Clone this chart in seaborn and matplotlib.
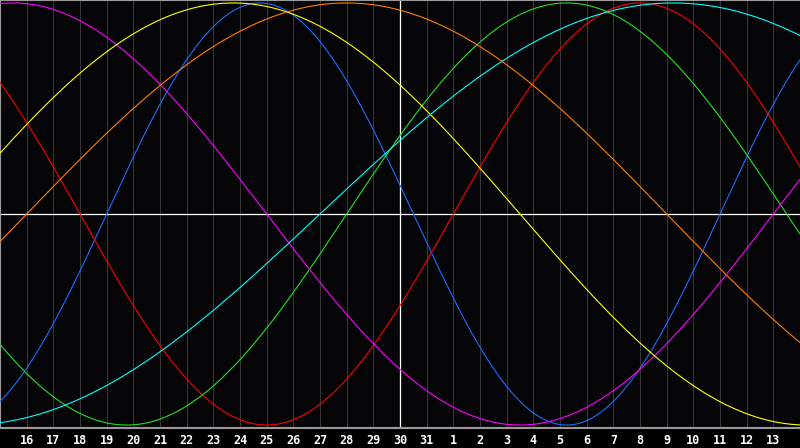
import numpy as np
import pandas as pd
import matplotlib
matplotlib.use("Agg")
import matplotlib.pyplot as plt
import seaborn as sns

# Day labels along the x-axis (Jul 16 .. Aug 13), day 0 = Jul 15 at left edge
day_labels = [str(d) for d in range(16, 32)] + [str(d) for d in range(1, 14)]
n_days = 30

# Biorhythm cycles: period (days) and day index of the upward zero crossing
cycles = ["Physical", "Emotional", "Intellectual", "Intuitive", "Aesthetic", "Awareness", "Spiritual"]
periods = [23, 28, 33, 38, 43, 48, 53]
up_cross = [4, 17, 13, -9, -2, 1, 12]
colors = ["#1a6cff", "#ff0000", "#22e022", "#ff00ff", "#ffff00", "#ff7f00", "#00ffff"]

t = np.linspace(0, n_days, 601)
frames = []
for name, p, c0 in zip(cycles, periods, up_cross):
    frames.append(pd.DataFrame({"t": t, "value": np.sin(2 * np.pi * (t - c0) / p), "cycle": name}))
df = pd.concat(frames, ignore_index=True)

sns.set_style("dark")
fig = plt.figure(figsize=(8, 4.48), dpi=100, facecolor="#000000")
ax = fig.add_axes([0, 20 / 448, 1, 428 / 448])
ax.set_facecolor("#050508")

# grid lines
for k in range(1, n_days):
    ax.axvline(k, color="#363636", lw=0.8, zorder=1)
ax.axvline(15, color="#ffffff", lw=0.9, zorder=2)
ax.axhline(0, color="#ffffff", lw=0.9, zorder=2)

sns.lineplot(data=df, x="t", y="value", hue="cycle", palette=dict(zip(cycles, colors)),
             ax=ax, lw=0.8, legend=False, zorder=3, sort=False, estimator=None)

ax.set_xlim(0, n_days)
ax.set_ylim(-1.014, 1.014)
ax.set_xticks(range(1, n_days))
ax.set_xticklabels(day_labels)
ax.set_yticks([])
ax.set_xlabel("")
ax.set_ylabel("")
ax.tick_params(axis="x", length=0, pad=4, colors="#ffffff", labelsize=8.5)
for lab in ax.get_xticklabels():
    lab.set_fontfamily("DejaVu Sans Mono")
    lab.set_fontweight("bold")
for side in ["left", "top", "bottom"]:
    ax.spines[side].set_visible(True)
    ax.spines[side].set_color("#9a9a9a")
    ax.spines[side].set_linewidth(1.5)
ax.spines["right"].set_visible(False)
ax.grid(False)

fig.savefig("out.png", dpi=100, facecolor="#000000")
